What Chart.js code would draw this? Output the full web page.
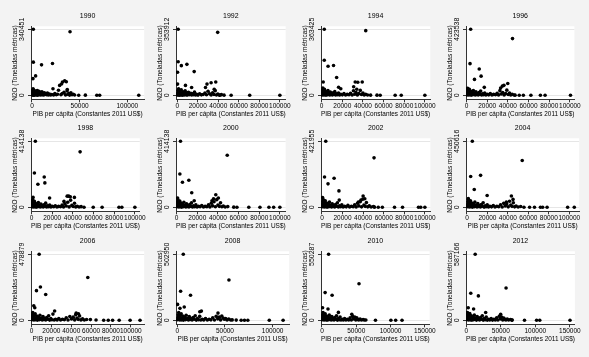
<!DOCTYPE html>
<html>
<head>
<meta charset="utf-8">
<script src="https://cdn.jsdelivr.net/npm/chart.js@4.4.0/dist/chart.umd.min.js"></script>
<style>
  html, body { margin: 0; padding: 0; background: #ffffff; }
  #wrap { position: relative; width: 589px; height: 357px; background: #f3f3f3; }
  .panel { position: absolute; }
</style>
</head>
<body>
<div id="wrap"></div>
<script>
// Años de cada panel
const years = ['1990', '1992', '1994', '1996', '1998', '2000', '2002', '2004', '2006', '2008', '2010', '2012'];

// Etiqueta máxima del eje Y (Stata muestra solo 0 y el máximo)
const yMaxLabels = [340451, 353912, 363425, 423538, 414138, 414138, 421955, 450616, 478879, 502950, 550287, 587166];

// Ticks del eje X en cada panel
const ticks20k = [0, 20000, 40000, 60000, 80000, 100000];
const xTickSets = [
    [0, 50000, 100000], ticks20k, ticks20k, ticks20k,
    ticks20k, ticks20k, ticks20k, ticks20k,
    ticks20k, [0, 50000, 100000], [0, 50000, 100000, 150000], [0, 50000, 100000, 150000]
];

// Rango visible del eje X
const xRanges = [
    [-1040, 117700], [-1220, 105650], [-650, 105200], [-500, 104380],
    [-500, 104760], [-650, 105590], [-930, 105310], [-970, 109710],
    [-500, 113500], [-1350, 117400], [-1390, 156940], [-400, 157280]
];

// [PIB per cápita, N2O]
const pts1990 = [[1400,340451],[39900,328000],[1400,171000],[10000,157000],[21500,164000],[1000,86000],[3800,100000],[29000,51000],[32000,68000],[34300,75000],[36000,70000],[31000,58000],[27800,26000],[22000,34000],[37000,30000],[49000,500],[56000,900],[68000,400],[71000,600],[112000,300],
    [300,2000],[500,9000],[600,24000],[800,4000],[900,16000],[1100,33000],[1300,700],[1500,12000],[1700,28000],[1900,5000],[2100,19000],[2300,1000],[2600,8000],[2800,14000],[3100,2500],[3400,22000],[3700,6000],[4000,10500],[4300,1800],[4700,17000],[5100,4000],[5500,25000],[5900,900],[6300,12000],[6800,5000],[7200,20000],[7700,2600],[8200,9000],[8700,15000],[9200,1200],[9800,7000],[10400,18500],[11000,3300],[11600,10000],[12300,2000],[13000,13000],[13700,4800],[14400,7500],[15300,2800],[16200,11000],[17100,1400],[18300,6000],[19500,2100],[20700,4200],[22600,1300],[24000,9000],[25500,2700],[26800,5500],[30400,3400],[31800,9500],[33600,15000],[35200,2000],[36800,22000],[37800,5000],[38700,9000],[39500,1100],[40800,13000],[42000,3200],[43300,5400],[44700,1600]];

const pts1992 = [[900,353912],[39400,337600],[900,180000],[4000,159000],[9400,166000],[300,124000],[16500,127000],[300,60000],[8000,53000],[29000,60000],[33000,67000],[37500,71000],[27500,42000],[36000,32000],[14000,42000],[41500,600],[45600,900],[52500,500],[70600,400],[100000,300],
    [200,3000],[400,11000],[600,26000],[700,1500],[900,7000],[1100,18000],[1300,35000],[1500,4000],[1700,13000],[2000,900],[2200,22000],[2500,6000],[2800,15000],[3100,2000],[3500,9500],[3900,29000],[4300,3500],[4700,12000],[5100,700],[5600,19000],[6100,5000],[6600,10000],[7100,1800],[7700,24000],[8300,4000],[8900,14000],[9500,1200],[10200,8000],[10900,16000],[11600,2600],[12400,6500],[13200,11000],[14000,1500],[14900,7500],[15800,3000],[16800,17000],[17800,2000],[18900,5000],[20200,1000],[21800,8000],[23500,2500],[25200,4500],[27000,12000],[28500,3000],[30000,22000],[31500,8000],[33000,1800],[34500,14000],[35800,4500],[37000,25000],[38200,2000],[39500,7000],[41000,1200],[43000,3500]];

const pts1994 = [[2500,363425],[42700,356000],[2500,193000],[6200,160000],[11500,164000],[14500,98000],[1500,73000],[16400,44000],[18500,36000],[32500,73000],[35000,72000],[39300,73000],[31000,47000],[34000,33000],[47400,700],[53600,900],[56700,500],[71200,400],[77100,400],[100000,300],
    [300,2500],[500,14000],[700,28000],[900,5000],[1100,40000],[1300,9000],[1500,19000],[1800,1500],[2100,24000],[2400,7000],[2700,33000],[3000,3000],[3400,12000],[3800,21000],[4200,1000],[4600,8000],[5100,16000],[5600,3500],[6100,26000],[6600,6000],[7200,11000],[7800,1500],[8400,18000],[9000,4500],[9700,9000],[10400,2000],[11100,14000],[11900,5500],[12700,20000],[13500,1300],[14400,8000],[15300,3000],[16300,12000],[17400,1800],[18600,6000],[20000,2500],[21600,9000],[23200,1500],[24800,5000],[26500,3000],[28000,11000],[29500,2000],[30800,25000],[32000,6000],[33300,15000],[34600,2000],[36000,9000],[37400,27000],[38600,4000],[40000,12000],[41200,2000],[42600,6000],[44500,1500]];

const pts1996 = [[4000,423538],[44500,364000],[3400,203000],[12300,169000],[14100,123000],[7700,102000],[39900,76000],[36200,64000],[34700,59000],[33000,47000],[17200,51000],[47000,900],[51000,700],[55000,500],[62300,400],[71500,400],[76000,300],[100600,300],
    [300,3000],[500,16000],[700,34000],[900,6000],[1100,45000],[1300,11000],[1600,23000],[1900,2000],[2200,29000],[2500,8000],[2800,38000],[3200,3500],[3600,14000],[4000,25000],[4500,1200],[5000,10000],[5500,19000],[6000,4000],[6600,31000],[7200,7000],[7800,13000],[8400,2000],[9100,22000],[9800,5000],[10500,11000],[11300,2500],[12100,17000],[12900,6500],[13700,27000],[14600,1500],[15500,9500],[16500,3500],[17600,15000],[18800,2000],[20000,7000],[21500,3000],[23000,11000],[24600,1800],[26200,6000],[28000,3500],[29600,13000],[31000,2500],[32300,30000],[33600,8000],[35000,18000],[36400,2500],[37800,11000],[39000,33000],[40300,5000],[41600,15000],[42800,2500],[44200,7000],[46000,1800]];

const pts1998 = [[3700,414138],[47000,348000],[2800,215000],[12300,190000],[12900,153000],[6200,145000],[1500,62000],[17500,58000],[34500,70000],[36000,70000],[37500,66000],[41500,62000],[31400,37000],[50800,700],[59700,500],[68300,400],[84600,400],[87400,300],[100000,300],
    [300,3000],[500,15000],[700,33000],[900,6000],[1100,47000],[1300,10000],[1600,22000],[1900,2000],[2200,28000],[2500,8000],[2800,37000],[3200,3500],[3600,13000],[4000,24000],[4500,1200],[5000,9500],[5500,18000],[6000,4000],[6600,30000],[7200,7000],[7800,12500],[8400,2000],[9100,21000],[9800,5000],[10500,10500],[11300,2500],[12100,16000],[12900,6500],[13700,26000],[14600,1500],[15500,9000],[16500,3500],[17600,14000],[18800,2000],[20000,6500],[21500,3000],[23000,10000],[24600,1800],[26200,5500],[28000,3500],[29600,14000],[31000,2500],[32300,22000],[33600,8000],[35000,32000],[36400,2500],[37800,45000],[39000,12000],[40300,5000],[41600,25000],[42800,2500],[44200,7000],[46000,1800],[48000,4000]];

const pts2000 = [[3700,414138],[49000,327000],[3100,209000],[11800,170000],[5600,157000],[14600,91000],[900,58000],[37900,79000],[40400,58000],[35700,54000],[34200,41000],[17000,41000],[55300,800],[58400,500],[69900,400],[80700,400],[89400,300],[94000,300],[100000,300],
    [300,3500],[500,17000],[700,35000],[900,6500],[1100,48000],[1400,11000],[1700,24000],[2000,2000],[2300,30000],[2600,8500],[3000,40000],[3400,3500],[3800,14000],[4300,26000],[4800,1200],[5300,10000],[5800,19000],[6400,4000],[7000,32000],[7600,7500],[8200,13000],[8900,2000],[9600,22000],[10300,5500],[11100,11000],[11900,2500],[12700,17000],[13500,7000],[14400,28000],[15300,1500],[16300,10000],[17400,3500],[18600,15000],[19800,2000],[21200,7000],[22700,3000],[24300,11000],[26000,1800],[27600,6000],[29300,3500],[30800,15000],[32200,2500],[33500,25000],[34800,9000],[36200,35000],[37500,3000],[38800,48000],[40000,14000],[41300,6000],[42500,28000],[43800,3000],[45200,8000],[47000,2000],[49500,4500]];

const pts2002 = [[3700,421955],[50600,316000],[2500,194000],[11800,186000],[5900,150000],[16500,105000],[600,63000],[40000,72000],[41600,55000],[37900,46000],[35400,34000],[16800,46000],[51000,900],[54700,700],[58700,500],[70500,400],[78300,400],[93800,300],[96000,300],[100000,300],
    [300,3500],[500,18000],[700,36000],[900,7000],[1200,50000],[1500,11000],[1800,25000],[2100,2000],[2400,31000],[2800,9000],[3200,42000],[3600,3500],[4000,15000],[4500,27000],[5000,1200],[5500,10000],[6100,20000],[6700,4000],[7300,33000],[7900,7500],[8600,13000],[9300,2000],[10000,23000],[10800,5500],[11600,11000],[12400,2500],[13200,18000],[14100,7000],[15000,29000],[15900,1500],[17000,10000],[18100,3500],[19300,16000],[20600,2000],[22000,7000],[23600,3000],[25200,12000],[26900,1800],[28600,6500],[30300,3500],[31800,16000],[33200,2500],[34500,26000],[35800,9000],[37200,36000],[38500,3000],[39700,52000],[40800,15000],[42000,6000],[43200,30000],[44500,3000],[46000,9000],[47800,2000],[50000,5000]];

const pts2004 = [[5200,450616],[54000,320000],[3600,210000],[13300,218000],[7100,122000],[19700,81000],[1300,59000],[43400,77000],[45000,54000],[38500,36000],[55700,800],[61200,600],[66000,500],[71800,400],[74000,400],[78300,400],[98400,300],[104900,300],
    [300,4000],[600,19000],[800,38000],[1000,7500],[1300,53000],[1600,12000],[1900,27000],[2200,2000],[2600,33000],[3000,9500],[3400,45000],[3800,3500],[4300,16000],[4800,29000],[5300,1300],[5900,11000],[6500,21000],[7100,4500],[7700,35000],[8400,8000],[9100,14000],[9800,2000],[10600,25000],[11400,6000],[12200,12000],[13100,2500],[14000,19000],[14900,7500],[15800,31000],[16700,1500],[17700,11000],[18700,4000],[19800,17000],[21000,2000],[22400,7500],[24000,3000],[25700,12500],[27400,2000],[29200,7000],[31000,3500],[32800,17000],[34400,2500],[35900,27000],[37400,9500],[38900,22000],[40300,3000],[41600,41000],[42800,16000],[44000,6500],[45300,31000],[46600,3000],[48000,9000],[50000,2000],[52500,5000]];

const pts2006 = [[7700,478879],[56700,311000],[5000,215000],[9000,242000],[14300,187000],[2300,105000],[3300,91000],[23300,67000],[45000,53000],[47300,48000],[59300,5000],[65000,2000],[72700,500],[77300,400],[81700,400],[88300,300],[99300,300],[109300,300],
    [300,4000],[600,20000],[800,40000],[1000,8000],[1300,56000],[1600,13000],[2000,29000],[2400,2000],[2800,35000],[3200,10000],[3700,48000],[4200,3500],[4700,17000],[5300,31000],[5900,1300],[6500,12000],[7100,22000],[7800,4500],[8500,37000],[9200,8500],[10000,15000],[10800,2000],[11600,27000],[12500,6500],[13400,13000],[14300,2500],[15300,20000],[16300,8000],[17300,33000],[18300,1500],[19400,12000],[20500,4000],[21600,45000],[22800,2000],[24200,8000],[25800,3000],[27500,13000],[29300,2000],[31200,7500],[33100,3500],[35000,18000],[36800,2500],[38600,28000],[40300,10000],[42000,23000],[43500,3000],[44500,41000],[45800,17000],[47000,7000],[48400,32000],[49800,3000],[51400,10000],[53200,2000],[55500,5500]];

const pts2008 = [[6300,502950],[54200,307000],[3500,221000],[13900,191000],[300,121000],[2800,91000],[7300,101000],[23600,65000],[25300,70000],[42700,55000],[57600,3000],[61800,1500],[67000,500],[70500,400],[74000,400],[96500,300],[111000,300],
    [300,4500],[600,21000],[900,42000],[1200,8500],[1500,59000],[1900,14000],[2300,31000],[2700,2000],[3100,37000],[3600,10500],[4100,50000],[4600,3500],[5200,18000],[5800,33000],[6400,1400],[7100,13000],[7800,24000],[8500,5000],[9300,39000],[10100,9000],[10900,16000],[11700,2000],[12600,28000],[13500,7000],[14500,14000],[15500,2500],[16600,21000],[17700,8500],[18800,35000],[19900,1600],[21100,13000],[22300,4000],[23500,30000],[24700,2000],[26200,8500],[27800,3000],[29600,14000],[31500,2000],[33400,8000],[35300,3500],[37200,19000],[39000,2500],[40800,30000],[42400,11000],[44000,24000],[45400,3000],[46700,33000],[48000,18000],[49300,7500],[50700,13000],[52200,3000],[54000,10000],[56000,2000]];

const pts2010 = [[9700,550287],[54000,305000],[4600,231000],[14800,209000],[900,105000],[8800,94000],[24000,66000],[43500,50000],[64000,2000],[78000,500],[100500,400],[107400,300],[116700,300],
    [300,5000],[600,23000],[900,46000],[1200,9000],[1600,65000],[2000,15000],[2500,34000],[3000,2000],[3500,41000],[4100,11500],[4700,55000],[5300,4000],[6000,20000],[6700,36000],[7400,1500],[8200,14000],[9000,26000],[9800,5500],[10700,43000],[11600,10000],[12500,17500],[13400,2000],[14400,31000],[15400,7500],[16500,15000],[17600,2500],[18800,23000],[20000,9000],[21200,38000],[22400,1800],[23700,14000],[25000,4500],[26400,27000],[27800,2000],[29500,9000],[31200,3000],[33000,15000],[35000,2000],[37000,8500],[39000,3500],[41000,21000],[42800,2500],[44600,33000],[46200,12000],[47800,27000],[49300,3000],[50700,20000],[52100,8000],[53600,3500],[55500,11000],[57500,2500],[60000,6000],[62000,2000]];

const pts2012 = [[12900,587166],[57600,288000],[6500,241000],[17500,217000],[2800,112000],[10600,100000],[28100,70000],[49800,53000],[65900,2000],[84300,500],[101800,400],[106400,300],[150200,300],
    [300,5500],[600,25000],[900,49000],[1300,10000],[1700,70000],[2200,16000],[2700,36000],[3200,2500],[3800,44000],[4400,12500],[5100,59000],[5800,4000],[6500,21000],[7300,39000],[8100,1600],[8900,15000],[9800,28000],[10700,6000],[11700,46000],[12700,10500],[13700,19000],[14700,2000],[15800,33000],[16900,8000],[18100,16000],[19300,2500],[20600,25000],[21900,9500],[23200,41000],[24500,1800],[25900,15000],[27400,5000],[28900,29000],[30400,2000],[32200,9500],[34000,3000],[36000,16000],[38000,2000],[40000,9000],[42000,3500],[44000,22000],[45900,2500],[47800,35000],[49500,13000],[51200,29000],[52800,3000],[54300,21000],[55800,8500],[57400,3500],[59300,12000],[61400,2500],[64000,6500],[66500,2000]];

const seriesByYear = [pts1990, pts1992, pts1994, pts1996, pts1998, pts2000, pts2002, pts2004, pts2006, pts2008, pts2010, pts2012];

const FONT = '"Liberation Sans", Arial, sans-serif';
const CANVAS_W = 146, CANVAS_H = 119;
const PLOT_TOP = 26.3, PLOT_H = 73.5;

// fondo blanco del área de trazado
const plotBg = {
    id: 'plotBg',
    beforeDraw(chart) {
        const a = chart.chartArea;
        chart.ctx.save();
        chart.ctx.fillStyle = '#ffffff';
        chart.ctx.fillRect(a.left, a.top, a.right - a.left, a.bottom - a.top);
        chart.ctx.restore();
    }
};

// etiquetas del eje Y giradas, como en Stata
const rotatedYLabels = {
    id: 'rotatedYLabels',
    afterDraw(chart) {
        const y = chart.scales.y;
        const ctx = chart.ctx;
        ctx.save();
        ctx.font = '7px ' + FONT;
        ctx.fillStyle = '#000';
        ctx.textAlign = 'center';
        ctx.textBaseline = 'middle';
        y.ticks.forEach(t => {
            ctx.save();
            ctx.translate(y.right - 8.5, y.getPixelForValue(t.value));
            ctx.rotate(-Math.PI / 2);
            ctx.fillText(String(t.value), 0, 0);
            ctx.restore();
        });
        ctx.restore();
    }
};

const wrap = document.getElementById('wrap');
const rowTops = [0, 112, 225];

years.forEach((year, i) => {
    const col = i % 4, row = Math.floor(i / 4);
    const canvas = document.createElement('canvas');
    canvas.className = 'panel';
    canvas.width = CANVAS_W;
    canvas.height = CANVAS_H;
    canvas.style.left = (145 * col) + 'px';
    canvas.style.top = rowTops[row] + 'px';
    canvas.style.width = CANVAS_W + 'px';
    canvas.style.height = CANVAS_H + 'px';
    wrap.appendChild(canvas);

    const yTop = yMaxLabels[i];
    const xt = xTickSets[i];

    new Chart(canvas, {
        type: 'scatter',
        data: {
            datasets: [{
                data: seriesByYear[i].map(p => ({ x: p[0], y: p[1] })),
                backgroundColor: '#000000',
                borderWidth: 0,
                pointRadius: 1.8,
                pointHoverRadius: 1.8
            }]
        },
        options: {
            responsive: false,
            animation: false,
            events: [],
            devicePixelRatio: 1,
            layout: { padding: { top: 0, right: 1, bottom: 0.5, left: 0 } },
            plugins: {
                legend: { display: false },
                tooltip: { enabled: false },
                title: {
                    display: true,
                    text: year,
                    fullSize: false,
                    color: '#000',
                    font: { size: 7, family: FONT, weight: 'normal' },
                    padding: { top: 12, bottom: PLOT_TOP - 12 - 8.4 }
                }
            },
            scales: {
                x: {
                    type: 'linear',
                    min: xRanges[i][0],
                    max: xRanges[i][1],
                    afterBuildTicks: s => { s.ticks = xt.map(v => ({ value: v })); },
                    afterFit: s => { s.height = CANVAS_H - 0.5 - (PLOT_TOP + PLOT_H); },
                    grid: { display: true, drawOnChartArea: false, tickLength: 2.5, tickColor: '#333' },
                    border: { color: '#333', width: 1 },
                    ticks: {
                        autoSkip: false, maxRotation: 0, minRotation: 0, padding: 0,
                        color: '#000', font: { size: 6.5, family: FONT },
                        callback: v => String(v)
                    },
                    title: {
                        display: true,
                        text: 'PIB per cápita (Constantes 2011 US$)',
                        color: '#000',
                        font: { size: 6.5, family: FONT },
                        padding: { top: 0, bottom: 0 }
                    }
                },
                y: {
                    type: 'linear',
                    min: -yTop * 4.5 / 66,
                    max: yTop * (1 + 3 / 66),
                    afterBuildTicks: s => { s.ticks = [{ value: 0 }, { value: yTop }]; },
                    afterFit: s => { s.width = 31; },
                    grid: { display: true, drawOnChartArea: true, color: '#e6e6e6', tickLength: 3, tickColor: '#333' },
                    border: { color: '#333', width: 1 },
                    ticks: { display: false },
                    title: {
                        display: true,
                        text: 'N2O (Toneladas métricas)',
                        color: '#000',
                        font: { size: 6.5, family: FONT },
                        padding: { top: 11, bottom: 0 }
                    }
                }
            }
        },
        plugins: [plotBg, rotatedYLabels]
    });
});
</script>
</body>
</html>
